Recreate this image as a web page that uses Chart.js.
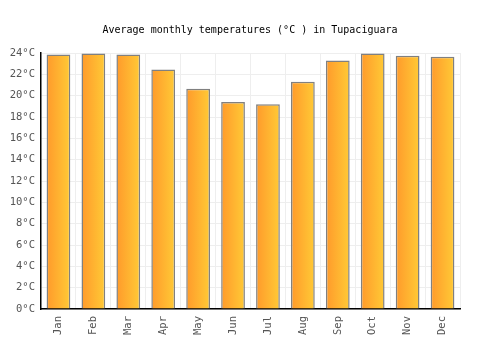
<!DOCTYPE html>
<html>
<head>
<meta charset="utf-8">
<script src="https://cdn.jsdelivr.net/npm/chart.js@4"></script>
<style>
  html, body { margin: 0; padding: 0; background: #fff; }
  #wrap { width: 500px; height: 350px; }
</style>
</head>
<body>
<div id="wrap"><canvas id="tempChart"></canvas></div>
<script>
const months = ['Jan', 'Feb', 'Mar', 'Apr', 'May', 'Jun', 'Jul', 'Aug', 'Sep', 'Oct', 'Nov', 'Dec'];
const temps = [23.85, 23.95, 23.85, 22.45, 20.65, 19.4, 19.2, 21.3, 23.3, 23.95, 23.75, 23.65];
const yTicks = [0, 2, 4, 6, 8, 10, 12, 14, 16, 18, 20, 22, 24];

const fontName = '"DejaVu Sans Mono", monospace';
const barPct = 0.68;

// left-to-right orange gradient per bar, worked out from the x scale
function barFill(context) {
  const chart = context.chart;
  const xs = chart.scales.x;
  if (!xs || context.dataIndex === undefined) return '#ffb030';
  const cx = xs.getPixelForValue(context.dataIndex);
  const w = (xs.width / months.length) * barPct;
  if (!isFinite(cx) || !isFinite(w) || w <= 0) return '#ffb030';
  const g = chart.ctx.createLinearGradient(cx - w / 2, 0, cx + w / 2, 0);
  g.addColorStop(0, '#ff9a2b');
  g.addColorStop(1, '#ffca36');
  return g;
}

const ctx = document.getElementById('tempChart').getContext('2d');
const myBarChart = new Chart(ctx, {
  type: 'bar',
  data: {
    labels: months,
    datasets: [{
      data: temps,
      backgroundColor: barFill,
      borderColor: '#808080',
      borderWidth: 1.5,
      borderSkipped: 'bottom',
      barPercentage: barPct,
      categoryPercentage: 1
    }]
  },
  options: {
    responsive: true,
    maintainAspectRatio: false,
    animation: false,
    layout: { padding: { left: 6, right: 6, top: 4, bottom: 8 } },
    plugins: {
      legend: { display: false },
      tooltip: { enabled: false },
      title: {
        display: true,
        text: 'Average monthly temperatures (°C ) in Tupaciguara',
        color: '#000',
        font: { family: fontName, size: 10, weight: 'normal' },
        padding: { top: 20, bottom: 17 }
      }
    },
    scales: {
      x: {
        grid: { color: '#eeeeee', lineWidth: 1, offset: true, drawTicks: false },
        border: { color: '#000', width: 1.5 },
        ticks: {
          color: '#555',
          font: { family: fontName, size: 10.5 },
          maxRotation: 90,
          minRotation: 90,
          padding: 7
        }
      },
      y: {
        min: 0,
        max: 24,
        afterBuildTicks: axis => { axis.ticks = yTicks.map(v => ({ value: v })); },
        afterFit: axis => { axis.width = 35; },
        grid: { color: '#eeeeee', lineWidth: 1, drawTicks: false },
        border: { color: '#000', width: 1.5 },
        ticks: {
          color: '#555',
          font: { family: fontName, size: 10.5 },
          padding: 6,
          callback: v => v + '°C'
        }
      },
      // empty right-hand axis, only keeps the gap on the right
      yRight: {
        position: 'right',
        afterFit: axis => { axis.width = 34; },
        grid: { display: false },
        border: { display: false },
        ticks: { display: false }
      }
    }
  }
});
</script>
</body>
</html>
